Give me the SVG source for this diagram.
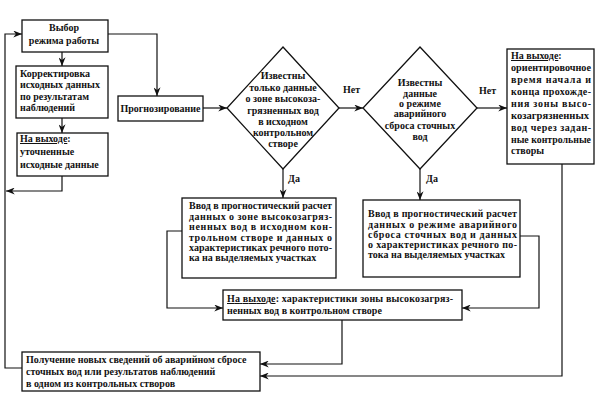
<svg xmlns="http://www.w3.org/2000/svg" width="604" height="408" viewBox="0 0 604 408">
<style>
.b{fill:#fff;stroke:#111;stroke-width:1.3}
.c{fill:none;stroke:#111;stroke-width:1.2}
text{font-family:"Liberation Serif","DejaVu Serif",serif;font-size:10px;font-weight:bold;fill:#111}
.m{text-anchor:middle}
.u{text-decoration:underline}
</style>
<defs>
<marker id="a" viewBox="0 0 10 8" refX="10" refY="4" markerWidth="9" markerHeight="7" orient="auto" markerUnits="userSpaceOnUse">
<path d="M0,0 L10,4 L0,8 L3,4 z" fill="#111"/>
</marker>
</defs>
<rect width="604" height="408" fill="#fff"/>
<g id="connectors">
<path class="c" d="M62,52 V66" marker-end="url(#a)"/>
<path class="c" d="M62,118 V133" marker-end="url(#a)"/>
<path class="c" d="M62,176 V191 H6" marker-end="url(#a)"/>
<path class="c" d="M108,34 H157 V96" marker-end="url(#a)"/>
<path class="c" d="M203,108 H227" marker-end="url(#a)"/>
<path class="c" d="M339,108 H363" marker-end="url(#a)"/>
<path class="c" d="M477,108 H507" marker-end="url(#a)"/>
<path class="c" d="M283,169 V198" marker-end="url(#a)"/>
<path class="c" d="M420,169 V200" marker-end="url(#a)"/>
<path class="c" d="M182,231 H167 V308 H223" marker-end="url(#a)"/>
<path class="c" d="M520,236 H539 V308 H462" marker-end="url(#a)"/>
<path class="c" d="M342,320 V364 H260" marker-end="url(#a)"/>
<path class="c" d="M562,164 V376 H260" marker-end="url(#a)"/>
<path class="c" d="M22,368 H5 V34 H22" marker-end="url(#a)"/>
<text x="343" y="93">Нет</text>
<text x="479" y="94">Нет</text>
<text x="288" y="182">Да</text>
<text x="426" y="182">Да</text>
</g>
<g id="n1">
<rect class="b" x="22" y="20" width="86" height="32"/>
<text class="m" x="64" y="31">Выбор</text>
<text class="m" x="64" y="44">режима работы</text>
</g>
<g id="n2">
<rect class="b" x="16" y="66" width="92" height="52"/>
<text x="20" y="76.5">Корректировка</text>
<text x="20" y="88">исходных данных</text>
<text x="20" y="99.5">по результатам</text>
<text x="20" y="111">наблюдений</text>
</g>
<g id="n3">
<rect class="b" x="17" y="133" width="91" height="43"/>
<text x="20" y="142"><tspan class="u">На выходе</tspan>:</text>
<text x="20" y="155">уточненные</text>
<text x="20" y="168">исходные данные</text>
</g>
<g id="n4">
<rect class="b" x="118" y="96" width="85" height="25"/>
<text class="m" x="160.5" y="111.5">Прогнозирование</text>
</g>
<g id="n5">
<polygon class="b" points="283,47 339,108 283,169 227,108"/>
<text class="m" x="283" y="79">Известны</text>
<text class="m" x="283" y="90.5">только данные</text>
<text class="m" x="283" y="102">о зоне высокоза-</text>
<text class="m" x="283" y="113.5">грязненных вод</text>
<text class="m" x="283" y="125">в исходном</text>
<text class="m" x="283" y="136">контрольном</text>
<text class="m" x="283" y="147">створе</text>
</g>
<g id="n6">
<polygon class="b" points="420,47 477,108 420,169 363,108"/>
<text class="m" x="420" y="85.5">Известны</text>
<text class="m" x="420" y="96.5">данные</text>
<text class="m" x="420" y="107">о режиме</text>
<text class="m" x="420" y="117">аварийного</text>
<text class="m" x="420" y="128.5">сброса сточных</text>
<text class="m" x="420" y="139.5">вод</text>
</g>
<g id="n7">
<rect class="b" x="507" y="49" width="87" height="115"/>
<text x="511" y="59"><tspan class="u">На выходе</tspan>:</text>
<text x="511" y="71" textLength="80" lengthAdjust="spacingAndGlyphs">ориентировочное</text>
<text x="511" y="83" textLength="80" lengthAdjust="spacing">время начала и</text>
<text x="511" y="95" textLength="80" lengthAdjust="spacing">конца прохожде-</text>
<text x="511" y="107" textLength="80" lengthAdjust="spacing">ния зоны высо-</text>
<text x="511" y="119" textLength="78" lengthAdjust="spacingAndGlyphs">козагрязненных</text>
<text x="511" y="130.5" textLength="80" lengthAdjust="spacing">вод через задан-</text>
<text x="511" y="142.5" textLength="80" lengthAdjust="spacingAndGlyphs">ные контрольные</text>
<text x="511" y="154">створы</text>
</g>
<g id="n8">
<rect class="b" x="182" y="198" width="154" height="80"/>
<text x="189" y="209" textLength="143" lengthAdjust="spacing">Ввод в прогностический расчет</text>
<text x="189" y="219.5" textLength="143" lengthAdjust="spacing">данных о зоне высокозагряз-</text>
<text x="189" y="230" textLength="143" lengthAdjust="spacing">ненных вод в исходном кон-</text>
<text x="189" y="240.5" textLength="143" lengthAdjust="spacing">трольном створе и данных о</text>
<text x="189" y="250.5" textLength="143" lengthAdjust="spacing">характеристиках речного пото-</text>
<text x="189" y="261">ка на выделяемых участках</text>
</g>
<g id="n9">
<rect class="b" x="363" y="200" width="157" height="77"/>
<text x="368" y="217" textLength="149" lengthAdjust="spacing">Ввод в прогностический расчет</text>
<text x="368" y="228" textLength="149" lengthAdjust="spacing">данных о режиме аварийного</text>
<text x="368" y="238" textLength="149" lengthAdjust="spacing">сброса сточных вод и данных</text>
<text x="368" y="248" textLength="149" lengthAdjust="spacing">о характеристиках речного по-</text>
<text x="368" y="258">тока на выделяемых участках</text>
</g>
<g id="n10">
<rect class="b" x="223" y="290" width="239" height="30"/>
<text x="227" y="302" textLength="226" lengthAdjust="spacing"><tspan class="u">На выходе</tspan>: характеристики зоны высокозагряз-</text>
<text x="227" y="314">ненных вод в контрольном створе</text>
</g>
<g id="n11">
<rect class="b" x="22" y="352" width="238" height="39"/>
<text x="26" y="363">Получение новых сведений об аварийном сбросе</text>
<text x="26" y="375">сточных вод или результатов наблюдений</text>
<text x="26" y="387">в одном из контрольных створов</text>
</g>
</svg>
